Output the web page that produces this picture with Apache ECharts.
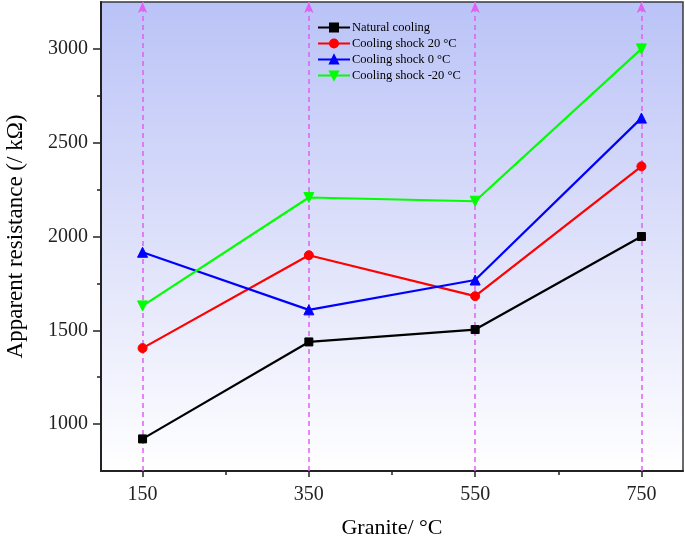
<!DOCTYPE html>
<html>
<head>
<meta charset="utf-8">
<script src="https://cdn.jsdelivr.net/npm/echarts@6/dist/echarts.min.js"></script>
<style>html,body{margin:0;padding:0;background:#fff}#c{width:685px;height:537px}</style>
</head>
<body>
<div id="c"></div>
<script>
const temperatures = [150, 350, 550, 750];
const naturalCooling = [921, 1438, 1504, 2000];
const shock20 = [1405, 1900, 1682, 2374];
const shock0 = [1916, 1609, 1768, 2631];
const shockMinus20 = [1630, 2208, 2188, 3000];
const seriesNames = ['Natural cooling', 'Cooling shock 20 °C', 'Cooling shock 0 °C', 'Cooling shock -20 °C'];
const xMinorTicks = [250, 450, 650];
const yMajorTicks = [1000, 1500, 2000, 2500, 3000];
const yMinorTicks = [1250, 1750, 2250, 2750];

const font = 'Liberation Serif, Times New Roman, serif';
const chart = echarts.init(document.getElementById('c'));

function pts(vals) { return temperatures.map((t, i) => [t, vals[i]]); }

const colors = ['#000000', '#ff0000', '#0000ff', '#00ff00'];
const symbols = ['rect', 'circle', 'triangle', 'path://M0,0 L10,0 L5,9 Z'];
const symbolSizes = [8, 9, 10, 10];
const allVals = [naturalCooling, shock20, shock0, shockMinus20];

const series = allVals.map((v, i) => ({
  name: seriesNames[i],
  type: 'line',
  data: pts(v),
  xAxisIndex: 0,
  yAxisIndex: 0,
  symbol: symbols[i],
  symbolSize: symbolSizes[i],
  showSymbol: true,
  itemStyle: { color: colors[i], borderColor: colors[i], borderWidth: 1 },
  lineStyle: { color: colors[i], width: 2.2 },
  z: 3,
  animation: false
}));

series.push({
  name: 'guides',
  type: 'line',
  data: [],
  xAxisIndex: 0,
  yAxisIndex: 0,
  z: 1,
  markLine: {
    z: 1,
    silent: true,
    symbol: ['none', 'arrow'],
    symbolSize: [7, 11],
    label: { show: false },
    lineStyle: { type: [5, 4], color: '#e060f0', width: 1.5, opacity: 1 },
    itemStyle: { color: '#d94fe0' },
    emphasis: { disabled: true },
    data: temperatures.map(t => ({ xAxis: t }))
  },
  animation: false
});

chart.setOption({
  animation: false,
  grid: {
    left: 101, right: 2, top: 2, bottom: 66,
    outerBoundsMode: 'none',
    containLabel: false,
    show: true,
    borderColor: '#3a3a3a',
    borderWidth: 1.5,
    backgroundColor: new echarts.graphic.LinearGradient(0, 0, 0, 1, [
      { offset: 0, color: '#bac3f7' },
      { offset: 0.5, color: '#dde0fa' },
      { offset: 1, color: '#ffffff' }
    ])
  },
  legend: {
    data: seriesNames,
    orient: 'vertical',
    left: 317,
    top: 21,
    itemWidth: 32,
    itemHeight: 10,
    itemGap: 3,
    textStyle: { fontFamily: font, fontSize: 12.5, color: '#000', lineHeight: 12, padding: [0, 0, 0, -3] },
    padding: 0
  },
  xAxis: [{
    type: 'value', min: 100, max: 800,
    name: 'Granite/ °C', nameLocation: 'middle', nameGap: 46,
    nameTextStyle: { fontFamily: font, fontSize: 22, color: '#000' },
    axisLine: { show: true, lineStyle: { color: '#222', width: 2 } },
    axisTick: { show: true, customValues: temperatures, length: 6, lineStyle: { color: '#222', width: 1.5 } },
    axisLabel: { customValues: temperatures, fontFamily: font, fontSize: 20, color: '#222', margin: 14, formatter: v => String(v) },
    splitLine: { show: false }
  }, {
    type: 'value', min: 100, max: 800, position: 'bottom',
    axisLine: { show: false },
    axisTick: { show: true, customValues: xMinorTicks, length: 4, lineStyle: { color: '#222', width: 1.5 } },
    axisLabel: { show: false },
    splitLine: { show: false }
  }],
  yAxis: [{
    type: 'value', min: 750, max: 3250,
    name: 'Apparent resistance (/ kΩ)', nameLocation: 'middle', nameGap: 74,
    nameTextStyle: { fontFamily: font, fontSize: 23, color: '#000' },
    axisLine: { show: true, lineStyle: { color: '#222', width: 2 } },
    axisTick: { show: true, customValues: yMajorTicks, length: 8, lineStyle: { color: '#222', width: 1.5 } },
    axisLabel: { customValues: yMajorTicks, fontFamily: font, fontSize: 20, color: '#222', margin: 13, formatter: v => String(v) },
    splitLine: { show: false }
  }, {
    type: 'value', min: 750, max: 3250, position: 'left',
    axisLine: { show: false },
    axisTick: { show: true, customValues: yMinorTicks, length: 4, lineStyle: { color: '#222', width: 1.5 } },
    axisLabel: { show: false },
    splitLine: { show: false }
  }],
  series: series
});
</script>
</body>
</html>
